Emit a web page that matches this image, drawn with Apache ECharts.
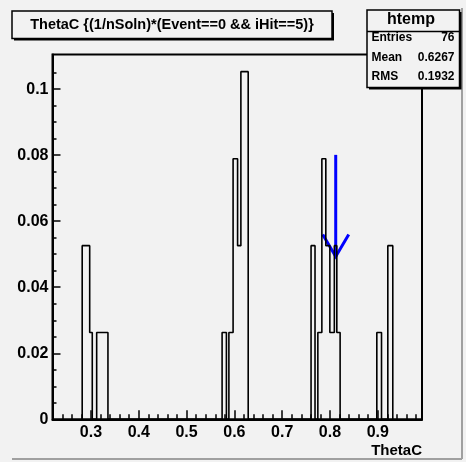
<!DOCTYPE html>
<html lang="en">
<head>
<meta charset="UTF-8">
<title>ThetaC</title>
<style type="text/css">
  body {margin: 0px; background-color: #f2f2f2;}
</style>
<script src="https://cdn.jsdelivr.net/npm/echarts@6/dist/echarts.min.js"></script>
</head>
<body>
<div id="main" style="width: 466px; height: 462px;"></div>
<script type="text/javascript">
// histogram outline: step edges and the weighted content between each pair of edges
var histEdges = [0.2816, 0.2973, 0.3027, 0.3119, 0.3355,
                 0.5743, 0.5833, 0.5885, 0.5973, 0.6067, 0.6136, 0.6289,
                 0.7604, 0.7687, 0.7746, 0.7830, 0.7913, 0.7997, 0.8091, 0.8143, 0.8212,
                 0.8980, 0.9078, 0.9210, 0.9314];
var histValues = [0.0526, 0.0263, 0, 0.0263, 0,
                  0.0263, 0, 0.0263, 0.0789, 0.0526, 0.1053, 0,
                  0.0526, 0, 0.0263, 0.0789, 0.0526, 0.0263, 0.0526, 0.0263, 0,
                  0.0263, 0, 0.0526];

var xMin = 0.2195, xMax = 0.9925;
var yMin = 0, yMax = 0.1105;
var xMajor = [0.3, 0.4, 0.5, 0.6, 0.7, 0.8, 0.9];
var xMinor = [0.22, 0.24, 0.26, 0.28, 0.32, 0.34, 0.36, 0.38, 0.42, 0.44, 0.46, 0.48,
              0.52, 0.54, 0.56, 0.58, 0.62, 0.64, 0.66, 0.68, 0.72, 0.74, 0.76, 0.78,
              0.82, 0.84, 0.86, 0.88, 0.92, 0.94, 0.96, 0.98];
var yMajor = [0, 0.02, 0.04, 0.06, 0.08, 0.1];
var yMinor = [0.005, 0.01, 0.015, 0.025, 0.03, 0.035, 0.045, 0.05, 0.055, 0.065, 0.07, 0.075,
              0.085, 0.09, 0.095, 0.105];

// arrow marker: x position, top of shaft, tip
var arrowX = 0.812, arrowTop = 0.0801, arrowTip = 0.0493;

var titleText = 'ThetaC {(1/nSoln)*(Event==0 && iHit==5)}';
var statsName = 'htemp';
var statsLabels = ['Entries', 'Mean', 'RMS'];
var statsValues = ['76', '0.6267', '0.1932'];

var gridL = 52.5, gridR = 44, gridT = 54.5, gridB = 42.7;
var gridW = 466 - gridL - gridR, gridH = 462 - gridT - gridB;
var font = 'Liberation Sans';

var outline = [[histEdges[0], 0]];
for (var i = 0; i < histValues.length; i++) {
    outline.push([histEdges[i], histValues[i]]);
    outline.push([histEdges[i + 1], histValues[i]]);
}
outline.push([histEdges[histEdges.length - 1], 0]);

var labelStyle = {color: '#000', fontFamily: font, fontWeight: 'bold', fontSize: 16};

var statsGraphics = [
    {type: 'rect', shape: {x: 369, y: 12, width: 92.5, height: 77.5}, style: {fill: '#000'}},
    {type: 'rect', shape: {x: 367, y: 10, width: 92.5, height: 77.5}, style: {fill: '#f2f2f2', stroke: '#000', lineWidth: 1.5}},
    {type: 'line', shape: {x1: 367, y1: 31.5, x2: 459.5, y2: 31.5}, style: {stroke: '#000', lineWidth: 1.5}},
    {type: 'text', x: 411, y: 20, style: {text: statsName, fill: '#000', font: 'bold 16px ' + font, textAlign: 'center', textVerticalAlign: 'middle'}}
];
for (var k = 0; k < statsLabels.length; k++) {
    statsGraphics.push({type: 'text', x: 371.5, y: 38 + k * 19.3,
        style: {text: statsLabels[k], fill: '#000', font: 'bold 12px ' + font, textAlign: 'left', textVerticalAlign: 'middle'}});
    statsGraphics.push({type: 'text', x: 454.5, y: 38 + k * 19.3,
        style: {text: statsValues[k], fill: '#000', font: 'bold 12px ' + font, textAlign: 'right', textVerticalAlign: 'middle'}});
}

var myChart = echarts.init(document.getElementById('main'));
var option = {
    backgroundColor: '#f2f2f2',
    animation: false,
    grid: {left: gridL, right: gridR, top: gridT, bottom: gridB, show: true,
           borderColor: '#000', borderWidth: 2, backgroundColor: 'transparent'},
    xAxis: [{
        type: 'value', min: xMin, max: xMax, position: 'bottom',
        splitLine: {show: false},
        axisLine: {lineStyle: {color: '#000', width: 2}},
        axisTick: {inside: true, length: 9, customValues: xMajor, lineStyle: {color: '#000', width: 1.5}},
        axisLabel: Object.assign({customValues: xMajor, margin: 5}, labelStyle),
        name: 'ThetaC', nameLocation: 'end', nameGap: 0,
        nameTextStyle: {color: '#000', fontFamily: font, fontWeight: 'bold', fontSize: 15,
                        align: 'right', verticalAlign: 'top', padding: [24, 0, 0, 0]}
    }, {
        // minor ticks: a top axis pulled down onto the bottom edge, ticks pointing up
        type: 'value', min: xMin, max: xMax, position: 'top', offset: -gridH,
        splitLine: {show: false}, axisLine: {show: false},
        axisTick: {inside: false, length: 5, customValues: xMinor, lineStyle: {color: '#000', width: 1.5}},
        axisLabel: {show: false}
    }],
    yAxis: [{
        type: 'value', min: yMin, max: yMax, position: 'left',
        splitLine: {show: false},
        axisLine: {lineStyle: {color: '#000', width: 2}},
        axisTick: {inside: true, length: 8, customValues: yMajor, lineStyle: {color: '#000', width: 1.5}},
        axisLabel: Object.assign({customValues: yMajor, margin: 4}, labelStyle)
    }, {
        type: 'value', min: yMin, max: yMax, position: 'right', offset: -gridW,
        splitLine: {show: false}, axisLine: {show: false},
        axisTick: {inside: false, length: 4, customValues: yMinor, lineStyle: {color: '#000', width: 1.5}},
        axisLabel: {show: false}
    }],
    series: [{
        type: 'line', xAxisIndex: 0, yAxisIndex: 0,
        data: outline, symbol: 'none',
        lineStyle: {color: '#000', width: 1.6}
    }, {
        type: 'custom', xAxisIndex: 0, yAxisIndex: 0,
        data: [[arrowX, arrowTop, arrowTip]],
        encode: {x: 0, y: [1, 2]},
        renderItem: function (params, api) {
            var top = api.coord([api.value(0), api.value(1)]);
            var tip = api.coord([api.value(0), api.value(2)]);
            return {type: 'group', children: [
                {type: 'line', shape: {x1: top[0], y1: top[1], x2: tip[0], y2: tip[1]},
                 style: {stroke: '#0000ff', lineWidth: 3}},
                {type: 'polyline', shape: {points: [[tip[0] - 13, tip[1] - 22], [tip[0], tip[1]], [tip[0] + 13, tip[1] - 22]]},
                 style: {stroke: '#0000ff', lineWidth: 3, fill: null}}
            ]};
        }
    }],
    graphic: [
        {type: 'line', shape: {x1: 12, y1: 459, x2: 462, y2: 459}, style: {stroke: '#a0a0a0', lineWidth: 2}},
        {type: 'line', shape: {x1: 462, y1: 8, x2: 462, y2: 459}, style: {stroke: '#a0a0a0', lineWidth: 2}},
        {type: 'rect', shape: {x: 14, y: 13, width: 320, height: 27.5}, style: {fill: '#000'}},
        {type: 'rect', shape: {x: 12, y: 11, width: 320, height: 27.5}, style: {fill: '#f2f2f2', stroke: '#000', lineWidth: 1.5}},
        {type: 'text', x: 172, y: 24.5, style: {text: titleText, fill: '#000', font: 'bold 14.5px ' + font,
                                              textAlign: 'center', textVerticalAlign: 'middle'}}
    ].concat(statsGraphics)
};
myChart.setOption(option);
</script>
</body>
</html>
